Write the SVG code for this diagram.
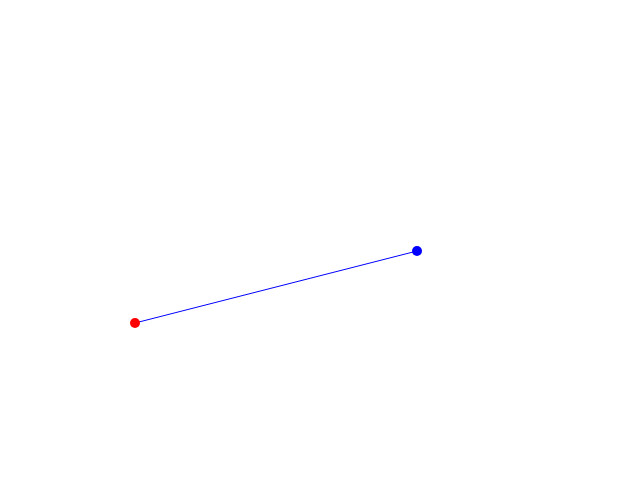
<svg xmlns="http://www.w3.org/2000/svg" width="640" height="480" viewBox="0 0 640 480">
<style>.edge{stroke:#0000ff;stroke-width:1;fill:none}</style>
<rect width="640" height="480" fill="#ffffff"/>
<g id="connectors"><line class="edge" x1="135" y1="323" x2="417" y2="251"/></g>
<g id="start"><circle cx="135" cy="323" r="5" fill="#ff0000"/></g>
<g id="end"><circle cx="417" cy="251" r="5" fill="#0000ff"/></g>
</svg>
